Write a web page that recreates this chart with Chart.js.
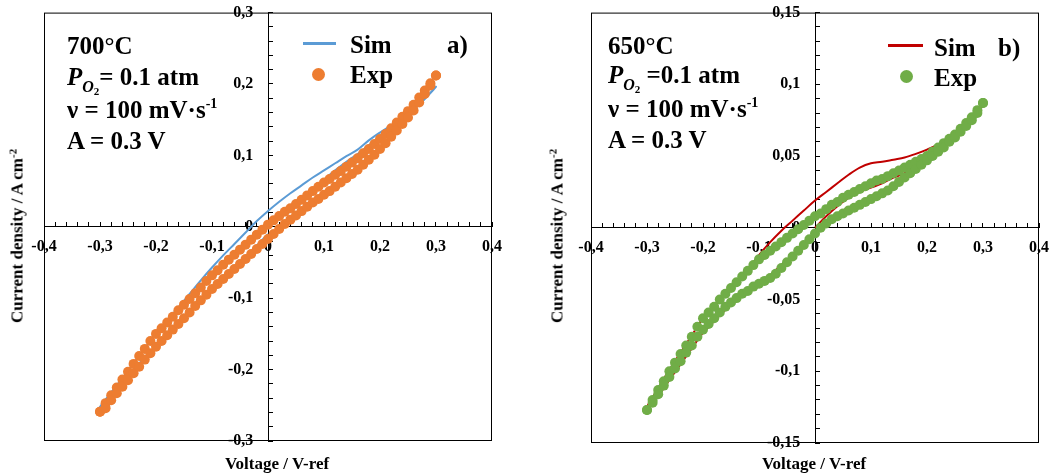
<!DOCTYPE html>
<html>
<head>
<meta charset="utf-8">
<script src="https://cdn.jsdelivr.net/npm/chart.js@4.4.1/dist/chart.umd.min.js"></script>
<style>
    body { margin: 0; background: #fff; }
    #wrap { position: relative; width: 1064px; height: 473px; overflow: hidden;
        font-family: "Liberation Serif", "Times New Roman", serif; font-weight: bold; color: #000; }
    canvas { position: absolute; top: 0; }
    .txt { position: absolute; font-size: 25px; line-height: 25px; white-space: nowrap; }
    .sub1 { font-size: 16px; position: relative; top: 7px; font-style: italic; }
    .sub2 { font-size: 11px; position: relative; top: 3px; font-style: normal; }
    .sup { font-size: 14px; position: relative; top: -10px; }
    .axt { position: absolute; font-size: 17px; line-height: 17px; white-space: nowrap; transform: translate(-50%, -50%); }
    .axt.rot { transform: translate(-50%, -50%) rotate(-90deg); }
    .axt .sup { font-size: 11px; top: -6px; }
    .lline { position: absolute; height: 3px; }
    .ldot { position: absolute; width: 13px; height: 13px; border-radius: 50%; }
</style>
</head>
<body>
<div id="wrap">
    <canvas id="chart_a" width="532" height="473" style="left:0"></canvas>
    <canvas id="chart_b" width="532" height="473" style="left:532px"></canvas>

    <div class="txt" style="left:67px;top:33px">700°C</div>
    <div class="txt" style="left:67px;top:64px"><i>P</i><span class="sub1">O<span class="sub2">2</span></span>= 0.1 atm</div>
    <div class="txt" style="left:67px;top:97px">ν = 100 mV·s<span class="sup">-1</span></div>
    <div class="txt" style="left:67px;top:128px">A = 0.3 V</div>
    <div class="lline" style="left:303px;top:42px;width:33px;background:#5B9BD5"></div>
    <div class="txt" style="left:350px;top:32px">Sim</div>
    <div class="txt" style="left:447px;top:32px">a)</div>
    <div class="ldot" style="left:312px;top:68px;background:#ED7D31"></div>
    <div class="txt" style="left:350px;top:62px">Exp</div>
    <div class="axt" style="left:277px;top:463px">Voltage / V-ref</div>
    <div class="axt rot" style="left:18px;top:236px">Current density / A cm<span class="sup">-2</span></div>

    <div class="txt" style="left:608px;top:33px">650°C</div>
    <div class="txt" style="left:608px;top:62px"><i>P</i><span class="sub1">O<span class="sub2">2</span></span> =0.1 atm</div>
    <div class="txt" style="left:608px;top:96px">ν = 100 mV·s<span class="sup">-1</span></div>
    <div class="txt" style="left:608px;top:127px">A = 0.3 V</div>
    <div class="lline" style="left:888px;top:44px;width:35px;background:#C00000"></div>
    <div class="txt" style="left:934px;top:35px">Sim</div>
    <div class="txt" style="left:998px;top:35px">b)</div>
    <div class="ldot" style="left:900px;top:70px;background:#70AD47"></div>
    <div class="txt" style="left:934px;top:65px">Exp</div>
    <div class="axt" style="left:814px;top:463px">Voltage / V-ref</div>
    <div class="axt rot" style="left:558px;top:236px">Current density / A cm<span class="sup">-2</span></div>
</div>
<script>
// measured voltage steps (V), same for both branches of every loop
const expVolt = [-0.30, -0.29, -0.28, -0.27, -0.26, -0.25, -0.24, -0.23, -0.22, -0.21,
    -0.20, -0.19, -0.18, -0.17, -0.16, -0.15, -0.14, -0.13, -0.12, -0.11,
    -0.10, -0.09, -0.08, -0.07, -0.06, -0.05, -0.04, -0.03, -0.02, -0.01,
    0.00, 0.01, 0.02, 0.03, 0.04, 0.05, 0.06, 0.07, 0.08, 0.09,
    0.10, 0.11, 0.12, 0.13, 0.14, 0.15, 0.16, 0.17, 0.18, 0.19,
    0.20, 0.21, 0.22, 0.23, 0.24, 0.25, 0.26, 0.27, 0.28, 0.29, 0.30];

// 700°C experiment (A cm-2)
const expUpA = [-0.259, -0.247, -0.236, -0.225, -0.214, -0.203, -0.192, -0.181, -0.171, -0.160,
    -0.150, -0.142, -0.134, -0.126, -0.117, -0.109, -0.101, -0.093, -0.085, -0.076,
    -0.068, -0.061, -0.053, -0.046, -0.039, -0.032, -0.025, -0.018, -0.011, -0.004,
    0.003, 0.009, 0.015, 0.021, 0.026, 0.032, 0.038, 0.044, 0.050, 0.056,
    0.062, 0.067, 0.073, 0.078, 0.084, 0.090, 0.096, 0.103, 0.109, 0.116,
    0.123, 0.130, 0.138, 0.146, 0.154, 0.162, 0.171, 0.181, 0.191, 0.201, 0.212];
const expLowA = [-0.259, -0.254, -0.243, -0.233, -0.224, -0.215, -0.205, -0.196, -0.186, -0.177,
    -0.168, -0.160, -0.152, -0.144, -0.136, -0.128, -0.120, -0.111, -0.103, -0.095,
    -0.087, -0.080, -0.073, -0.066, -0.059, -0.052, -0.045, -0.038, -0.031, -0.024,
    -0.017, -0.010, -0.003, 0.004, 0.010, 0.016, 0.022, 0.028, 0.034, 0.039,
    0.045, 0.050, 0.056, 0.062, 0.068, 0.074, 0.080, 0.087, 0.094, 0.101,
    0.109, 0.117, 0.126, 0.135, 0.144, 0.153, 0.163, 0.174, 0.186, 0.198, 0.212];

// 650°C experiment (A cm-2)
const expUpB = [-0.127, -0.120, -0.113, -0.107, -0.100, -0.094, -0.088, -0.082, -0.076, -0.069,
    -0.063, -0.059, -0.055, -0.050, -0.046, -0.042, -0.038, -0.034, -0.030, -0.026,
    -0.022, -0.019, -0.016, -0.013, -0.010, -0.007, -0.004, -0.001, 0.002, 0.005,
    0.008, 0.010, 0.013, 0.016, 0.018, 0.021, 0.023, 0.025, 0.027, 0.029,
    0.031, 0.033, 0.034, 0.036, 0.038, 0.040, 0.042, 0.044, 0.046, 0.048,
    0.050, 0.053, 0.056, 0.059, 0.062, 0.065, 0.069, 0.073, 0.077, 0.082, 0.087];
const expLowB = [-0.127, -0.122, -0.116, -0.110, -0.104, -0.098, -0.093, -0.087, -0.082, -0.076,
    -0.071, -0.067, -0.063, -0.059, -0.055, -0.052, -0.049, -0.046, -0.044, -0.041,
    -0.039, -0.037, -0.035, -0.032, -0.028, -0.024, -0.020, -0.016, -0.012, -0.008,
    -0.004, 0.000, 0.003, 0.006, 0.008, 0.010, 0.012, 0.014, 0.016, 0.018,
    0.020, 0.022, 0.024, 0.026, 0.029, 0.032, 0.035, 0.038, 0.041, 0.044,
    0.047, 0.050, 0.053, 0.056, 0.060, 0.063, 0.067, 0.071, 0.075, 0.080, 0.087];

// simulated sweep: 0 -> +0.3 -> -0.3 -> 0 V
const simVolt = [0.00, 0.02, 0.04, 0.06, 0.08, 0.10, 0.12, 0.14, 0.16, 0.18, 0.20, 0.22, 0.24, 0.26, 0.28, 0.30,
    0.28, 0.26, 0.24, 0.22, 0.20, 0.18, 0.16, 0.14, 0.12, 0.10, 0.08, 0.06, 0.04, 0.02, 0.00,
    -0.02, -0.04, -0.06, -0.08, -0.10, -0.12, -0.14, -0.16, -0.18, -0.20, -0.22, -0.24, -0.26, -0.28, -0.30,
    -0.28, -0.26, -0.24, -0.22, -0.20, -0.18, -0.16, -0.14, -0.12, -0.10, -0.08, -0.06, -0.04, -0.02, 0.00];
const simCurA = [0.000, 0.013, 0.026, 0.039, 0.052, 0.066, 0.079, 0.091, 0.102, 0.114, 0.127, 0.140, 0.151, 0.164, 0.179, 0.196,
    0.180, 0.165, 0.152, 0.142, 0.132, 0.121, 0.108, 0.099, 0.089, 0.079, 0.069, 0.058, 0.047, 0.035, 0.022,
    0.008, -0.008, -0.024, -0.040, -0.057, -0.075, -0.094, -0.113, -0.131, -0.150, -0.170, -0.191, -0.212, -0.232, -0.252,
    -0.234, -0.217, -0.200, -0.183, -0.166, -0.150, -0.134, -0.118, -0.102, -0.087, -0.072, -0.057, -0.042, -0.026, -0.010];
const simCurB = [0.000, 0.008, 0.015, 0.021, 0.025, 0.028, 0.031, 0.035, 0.038, 0.042, 0.047, 0.054, 0.062, 0.070, 0.077, 0.085,
    0.077, 0.069, 0.063, 0.058, 0.0545, 0.0515, 0.049, 0.0475, 0.046, 0.045, 0.042, 0.037, 0.031, 0.025, 0.019,
    0.012, 0.005, -0.002, -0.010, -0.019, -0.029, -0.038, -0.046, -0.055, -0.063, -0.075, -0.087, -0.099, -0.112, -0.125,
    -0.117, -0.106, -0.095, -0.084, -0.073, -0.065, -0.057, -0.050, -0.045, -0.039, -0.033, -0.026, -0.019, -0.012, -0.005];

Chart.defaults.font.family = '"Liberation Serif", "Times New Roman", serif';

let tickFont = { size: 16, weight: 'bold' };

function points(xs, ys) {
    return xs.map(function (v, i) { return { x: v, y: ys[i] }; });
}

// label only the major ticks, decimal comma; gap keeps y labels off the axis line
function tickLabel(step, gap) {
    return function (v) {
        let n = v / step;
        if (Math.abs(n - Math.round(n)) > 1e-6) return '';
        return String(Math.round(v * 100) / 100).replace('.', ',') + gap;
    };
}

// black box round the plot area
const framePlugin = {
    id: 'frame',
    beforeDatasetsDraw: function (chart) {
        let a = chart.chartArea;
        let c = chart.ctx;
        c.save();
        c.strokeStyle = '#000';
        c.lineWidth = 1;
        c.strokeRect(a.left + 0.5, a.top + 0.5, a.right - a.left - 1, a.bottom - a.top - 1);
        c.restore();
    }
};

function makeChart(id, pad, expUp, expLow, simCur, yMax, yStep, yLabelStep, simColor, expColor) {
    return new Chart(document.getElementById(id), {
        type: 'scatter',
        plugins: [framePlugin],
        data: {
            datasets: [{
                label: 'Sim',
                data: points(simVolt, simCur),
                showLine: true,
                pointRadius: 0,
                borderColor: simColor,
                borderWidth: 2,
                tension: 0.35,
                order: 1
            }, {
                label: 'Exp',
                data: points(expVolt, expUp).concat(points(expVolt, expLow)),
                pointRadius: 5,
                pointBorderWidth: 0,
                backgroundColor: expColor,
                borderColor: expColor,
                order: 0
            }]
        },
        options: {
            responsive: false,
            animation: false,
            layout: { padding: pad },
            plugins: { legend: { display: false }, tooltip: { enabled: false } },
            scales: {
                x: {
                    type: 'linear',
                    min: -0.4,
                    max: 0.4,
                    position: { y: 0 },
                    afterFit: function (s) { s.height = 0; },
                    border: { display: true, color: '#000', width: 1 },
                    grid: { drawOnChartArea: false, drawTicks: true, tickLength: -5, color: '#000' },
                    ticks: { stepSize: 0.02, autoSkip: false, maxRotation: 0, padding: 15, color: '#000',
                        font: tickFont, callback: tickLabel(0.1, '') }
                },
                y: {
                    type: 'linear',
                    min: -yMax,
                    max: yMax,
                    position: { x: 0 },
                    afterFit: function (s) { s.width = 0; },
                    border: { display: true, color: '#000', width: 1 },
                    grid: { drawOnChartArea: false, drawTicks: true, tickLength: -5, color: '#000' },
                    ticks: { stepSize: yStep, autoSkip: false, color: '#000',
                        font: tickFont, callback: tickLabel(yLabelStep, '\u2002\u2005\u2006') }
                }
            }
        }
    });
}

makeChart('chart_a', { left: 44, right: 40, top: 12, bottom: 32 },
    expUpA, expLowA, simCurA, 0.3, 0.02, 0.1, '#5B9BD5', '#ED7D31');
makeChart('chart_b', { left: 59, right: 14, top: 10, bottom: 30 },
    expUpB, expLowB, simCurB, 0.15, 0.01, 0.05, '#C00000', '#70AD47');
</script>
</body>
</html>
